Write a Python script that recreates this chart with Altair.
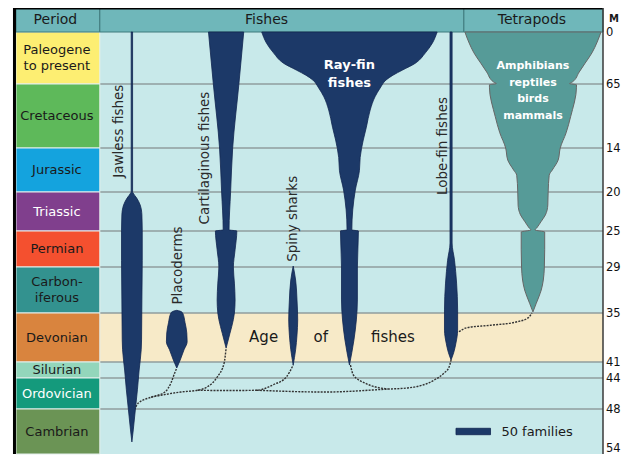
import altair as alt
import pandas as pd

# ------------------------------------------------------------------ data
period_names = ["Paleogene\nto present", "Cretaceous", "Jurassic", "Triassic", "Permian",
                "Carbon-\niferous", "Devonian", "Silurian", "Ordovician", "Cambrian"]
period_start = [0, 65, 145, 200, 251, 299, 359, 419, 443, 485]
period_end = [65, 145, 200, 251, 299, 359, 419, 443, 485, 541]
period_fill = ["#fdee72", "#5eb95a", "#14a3de", "#803f8d", "#f4502f",
               "#33928f", "#d9843e", "#93d6bb", "#149a7c", "#6b9455"]
period_text = ["#1a1a1a", "#1a1a1a", "#1a1a1a", "#ffffff", "#1a1a1a",
               "#1a1a1a", "#1a1a1a", "#1a1a1a", "#ffffff", "#1a1a1a"]
# where the first text line of each period label sits (Ma)
period_label_ma = [22.5, 105, 172.5, 225.5, 275, 318.5, 389, 431, 464, 513]

boundary_ma = [0, 65, 145, 200, 251, 299, 359, 419, 443, 485, 541]
# right-hand scale labels as they appear (cut off at the image edge)
boundary_labels = ["0", "65", "14", "20", "25", "29", "35", "41", "44", "48", "54"]

header_names = ["Period", "Fishes", "Tetrapods"]

# diversity (number of families) through time (Ma) for each lineage
jawless_ma = [0, 200, 201, 208, 217, 230, 250, 290, 342, 392, 404, 431, 459, 486, 511, 526]
jawless_fam = [2, 2, 3, 14, 24, 29, 30, 30, 29, 28, 27, 21, 16, 10, 4, 0]

placoderm_ma = [355.5, 356.5, 359, 371, 383.4, 394.4, 404, 416.5, 428]
placoderm_fam = [0, 9, 17, 24, 29, 30, 21, 10, 0]

cartilaginous_ma = [0, 65, 145, 200, 249.5, 251, 276, 299, 320, 342, 359, 367, 384, 402]
cartilaginous_fam = [51, 37, 19, 13, 8.5, 31, 26, 21, 24, 26, 24, 21, 11, 0]

spiny_ma = [297.7, 316, 342, 367.5, 386, 404, 423.5]
spiny_fam = [0, 7, 11, 13, 11, 7, 0]

rayfin_ma = [0, 14, 26, 39, 47.5, 54, 60, 70, 81, 97.5, 119, 135, 157, 173, 197.5,
             249.5, 251, 299, 342, 367.5, 392, 423.5]
rayfin_fam = [254, 240, 220, 191, 154, 126, 106, 89, 74, 60, 49, 40, 31, 29, 17,
              7, 26, 23, 23, 20, 13, 0]

lobefin_ma = [0, 267, 290, 320, 355, 380, 396, 407, 416.5]
lobefin_fam = [3, 3, 10, 16, 19, 19, 14, 8, 0]

tetrapod_ma = [0, 12.5, 26, 39, 50, 62.5, 64.5, 66, 69, 106, 126, 145, 160, 172.5, 179,
               200, 217, 230, 239, 247, 249.7, 252.3, 276, 299, 316, 329, 338, 347, 357.6]
tetrapod_fam = [197, 186, 171, 151, 134, 114, 106, 126, 126, 109, 96, 79, 73, 56, 47,
                44, 43, 36, 23, 11, 6, 34, 34, 33, 30, 24, 17, 9, 0]

legend_families = 50

# ------------------------------------------------------------------ layout
X_MIN, X_MAX = 13, 611
COL_L, COL_R = 16, 101
FISH_R = 470
FAM_PX = 0.7          # horizontal units per family
Y_DOMAIN = [-31] + boundary_ma
Y_RANGE = [0, 24, 76, 140, 184, 223, 259, 305, 354, 370, 401, 446]
PLOT_W, PLOT_H = 590, 447

NAVY = "#1c3968"
NAVY_EDGE = "#112650"
TEAL = "#569b98"
HEADER = "#6fb7ba"
BG = "#c8e9ea"
BAND = "#f7eac8"
FONT = "DejaVu Sans"

fish_centres = {"Jawless fishes": 133.5, "Placoderms": 179, "Cartilaginous fishes": 229,
                "Spiny sharks": 297, "Ray-fin fishes": 354, "Lobe-fin fishes": 457}
tetra_centre = 540

xs = alt.Scale(domain=[X_MIN, X_MAX], nice=False, zero=False)
ys = alt.Scale(domain=Y_DOMAIN, range=Y_RANGE, nice=False, zero=False)


def X(f):
    return alt.X(f, type="quantitative", scale=xs, axis=None)


def Y(f):
    return alt.Y(f, type="quantitative", scale=ys, axis=None)


# ------------------------------------------------------------------ tables
periods = pd.DataFrame({"name": period_names, "y0": period_start, "y1": period_end,
                        "fill": period_fill, "tc": period_text, "ym": period_label_ma})
periods["x0"] = COL_L
periods["x1"] = COL_R
periods["xm"] = (COL_L + COL_R) / 2 - 1

headers = pd.DataFrame({"name": header_names, "x0": [COL_L, COL_R, FISH_R],
                        "x1": [COL_R, FISH_R, X_MAX], "xm": [56, 270, 539]})
headers["y0"] = -31
headers["y1"] = 0
headers["ym"] = -15.5

plot_bg = pd.DataFrame({"x0": [COL_R], "x1": [X_MAX], "y0": [0], "y1": [541]})
band = pd.DataFrame({"x0": [COL_R], "x1": [X_MAX], "y0": [359], "y1": [419]})
grid = pd.DataFrame({"y": boundary_ma[1:-1]})
grid["x0"] = COL_R
grid["x1"] = X_MAX

scale_lab = pd.DataFrame({"y": boundary_ma[:-1], "text": boundary_labels[:-1]})
scale_lab["x"] = X_MAX + 3
scale_last = pd.DataFrame({"y": boundary_ma[-1:], "text": boundary_labels[-1:]})
scale_last["x"] = X_MAX + 3


def spindle(name, cx, mas, fams):
    return pd.DataFrame({"lineage": name, "ma": mas,
                         "x0": [cx - f * FAM_PX / 2 for f in fams],
                         "x1": [cx + f * FAM_PX / 2 for f in fams]})


fish = pd.concat([
    spindle("Jawless fishes", fish_centres["Jawless fishes"], jawless_ma, jawless_fam),
    spindle("Placoderms", fish_centres["Placoderms"], placoderm_ma, placoderm_fam),
    spindle("Cartilaginous fishes", fish_centres["Cartilaginous fishes"], cartilaginous_ma, cartilaginous_fam),
    spindle("Spiny sharks", fish_centres["Spiny sharks"], spiny_ma, spiny_fam),
    spindle("Ray-fin fishes", fish_centres["Ray-fin fishes"], rayfin_ma, rayfin_fam),
    spindle("Lobe-fin fishes", fish_centres["Lobe-fin fishes"], lobefin_ma, lobefin_fam),
])
tetra = spindle("Tetrapods", tetra_centre, tetrapod_ma, tetrapod_fam)

# phylogeny connectors (x position, Ma)
edges = {
    "jaw-plac": ([136, 140, 153, 167, 173, 177, 179], [486, 477, 469, 462, 450, 435, 428]),
    "jaw-cart": ([153, 183, 200, 210, 220, 227, 229], [469, 462, 459.6, 455, 441.5, 420.5, 402]),
    "cart-spiny": ([200, 230, 260, 277, 290, 297], [459.6, 460, 459.6, 452, 441.5, 423.5]),
    "main-lobe": ([260, 330, 393, 413, 440, 450, 455, 457], [459.6, 462, 458, 456.5, 445.7, 435.5, 426.5, 416.5]),
    "ray": ([355, 358, 370, 393], [423.5, 438.5, 450, 458]),
    "lobe-tetra": ([465, 473, 497, 523, 535, 539], [382, 377, 374, 370, 365, 359]),
}
edge_rows = []
for k, (ex, ey) in edges.items():
    for j, (a, b) in enumerate(zip(ex, ey)):
        edge_rows.append({"edge": k, "x": a, "y": b, "i": j})
edge_df = pd.DataFrame(edge_rows)

rot_labels = pd.DataFrame({
    "text": ["Jawless fishes", "Placoderms", "Cartilaginous fishes", "Spiny sharks", "Lobe-fin fishes"],
    "x": [120, 180, 208, 297, 449],
    "y": [124, 297, 157.5, 235, 142.5]})

age = pd.DataFrame({"text": ["Age", "of", "fishes"], "x": [267, 325, 398], "y": [388, 388, 388]})
white_bold = pd.DataFrame({"text": ["Ray-fin\nfishes"], "x": [354], "y": [41]})
tetra_text = pd.DataFrame({"text": ["Amphibians\nreptiles\nbirds\nmammals"], "x": [540], "y": [42.5]})

legend_bar = pd.DataFrame({"x0": [462], "x1": [462 + legend_families * FAM_PX], "y0": [509], "y1": [517]})
legend_txt = pd.DataFrame({"text": [f"{legend_families} families"], "x": [508], "y": [513]})
m_txt = pd.DataFrame({"text": ["M"], "x": [617], "y": [-17]})

borders_v = pd.DataFrame({"x": [14.5], "y0": [-31], "y1": [541]})
borders_h = pd.DataFrame({"y": [-31], "x0": [13], "x1": [X_MAX]})
right_line = pd.DataFrame({"x": [X_MAX], "y0": [-31], "y1": [541]})

# ------------------------------------------------------------------ layers
bg_layer = alt.Chart(plot_bg).mark_rect(color=BG).encode(x=X("x0"), x2="x1", y=Y("y0"), y2="y1")

band_layer = alt.Chart(band).mark_rect(color=BAND).encode(x=X("x0"), x2="x1", y=Y("y0"), y2="y1")

grid_layer = alt.Chart(grid).mark_rule(color="#909d9e", strokeWidth=1.3).encode(
    x=X("x0"), x2="x1", y=Y("y"))

period_layer = alt.Chart(periods).mark_rect(stroke="#e4efec", strokeWidth=1).encode(
    x=X("x0"), x2="x1", y=Y("y0"), y2="y1", color=alt.Color("fill:N", scale=None))

period_text_layer = alt.Chart(periods).mark_text(font=FONT, fontSize=13, lineBreak="\n",
                                                  lineHeight=16).encode(
    x=X("xm"), y=Y("ym"), text="name:N", color=alt.Color("tc:N", scale=None))

header_layer = alt.Chart(headers).mark_rect(color=HEADER, stroke="#3f7a7d", strokeWidth=1).encode(
    x=X("x0"), x2="x1", y=Y("y0"), y2="y1")

header_text = alt.Chart(headers).mark_text(font=FONT, fontSize=14, color="#1a1a1a").encode(
    x=X("xm"), y=Y("ym"), text="name:N")

edge_layer = alt.Chart(edge_df).mark_line(color="#333333", strokeWidth=1.4, strokeDash=[2, 1.2],
                                         interpolate="monotone").encode(
    x=X("x"), y=Y("y"), detail="edge:N", order="i:Q")

fish_layer = alt.Chart(fish).mark_area(orient="horizontal", interpolate="monotone", color=NAVY,
                                       stroke=NAVY_EDGE, strokeWidth=0.8, opacity=1).encode(
    y=Y("ma"), x=X("x0"), x2="x1", detail="lineage:N")

tetra_layer = alt.Chart(tetra).mark_area(orient="horizontal", interpolate="monotone", color=TEAL,
                                         stroke="#666666", strokeWidth=1, opacity=1).encode(
    y=Y("ma"), x=X("x0"), x2="x1", detail="lineage:N")

rot_layer = alt.Chart(rot_labels).mark_text(font=FONT, fontSize=13.5, angle=270, color="#2a2a2a").encode(
    x=X("x"), y=Y("y"), text="text:N")

age_layer = alt.Chart(age).mark_text(font=FONT, fontSize=15, color="#1a1a1a").encode(
    x=X("x"), y=Y("y"), text="text:N")

ray_layer = alt.Chart(white_bold).mark_text(font=FONT, fontSize=13, fontWeight="bold", color="white",
                                            lineBreak="\n", lineHeight=18).encode(
    x=X("x"), y=Y("y"), text="text:N")

tetra_text_layer = alt.Chart(tetra_text).mark_text(font=FONT, fontSize=11, fontWeight="bold",
                                                   color="white", lineBreak="\n", lineHeight=16.7).encode(
    x=X("x"), y=Y("y"), text="text:N")

legend_layer = alt.Chart(legend_bar).mark_rect(color=NAVY, stroke=NAVY_EDGE, strokeWidth=0.8).encode(
    x=X("x0"), x2="x1", y=Y("y0"), y2="y1")

legend_text = alt.Chart(legend_txt).mark_text(font=FONT, fontSize=13, align="left", color="#1a1a1a").encode(
    x=X("x"), y=Y("y"), text="text:N")

m_layer = alt.Chart(m_txt).mark_text(font=FONT, fontSize=10, fontWeight="bold", align="left",
                                     color="#1a1a1a").encode(x=X("x"), y=Y("y"), text="text:N")

scale_layer = alt.Chart(scale_lab).mark_text(font=FONT, fontSize=11.5, align="left", baseline="middle",
                                             dy=1, color="#111").encode(x=X("x"), y=Y("y"), text="text:N")
scale_last_layer = alt.Chart(scale_last).mark_text(font=FONT, fontSize=11.5, align="left",
                                                   baseline="bottom", color="#111").encode(
    x=X("x"), y=Y("y"), text="text:N")

bv = alt.Chart(borders_v).mark_rule(color="black", strokeWidth=3).encode(x=X("x"), y=Y("y0"), y2="y1")
bh = alt.Chart(borders_h).mark_rule(color="black", strokeWidth=3).encode(y=Y("y"), x=X("x0"), x2="x1")
br = alt.Chart(right_line).mark_rule(color="#3a3a3a", strokeWidth=1.5).encode(x=X("x"), y=Y("y0"), y2="y1")

chart = alt.layer(
    bg_layer, band_layer, grid_layer, period_layer, period_text_layer, header_layer, header_text,
    edge_layer, tetra_layer, fish_layer, rot_layer, age_layer, ray_layer, tetra_text_layer,
    legend_layer, legend_text, m_layer, scale_layer, scale_last_layer, bv, bh, br,
).properties(
    width=PLOT_W, height=PLOT_H, autosize="none",
    padding={"left": 5, "top": 0, "right": 19, "bottom": 0},
    background="white",
).configure_view(stroke=None)

chart.save("out.html", embed_options={"renderer": "svg", "actions": False})
